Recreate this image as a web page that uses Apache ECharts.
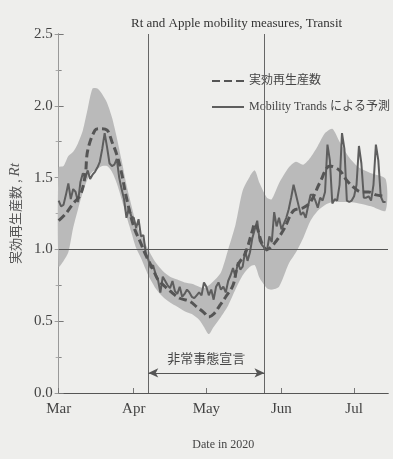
<!DOCTYPE html>
<html>
<head>
<meta charset="utf-8">
<script src="https://cdn.jsdelivr.net/npm/echarts@6/dist/echarts.min.js"></script>
<style>
  html, body { margin: 0; padding: 0; background: #eeeeec; }
  #chart { width: 393px; height: 459px; }
</style>
</head>
<body>
<div id="chart"></div>
<script>
// month ticks on the x axis
const monthTicks = ["2020-03-01", "2020-04-01", "2020-05-01", "2020-06-01", "2020-07-01"];
const monthNames = ["Mar", "Apr", "May", "Jun", "Jul"];

// estimated Rt (dashed)
const rtDates = ["2020-03-01", "2020-03-04", "2020-03-07", "2020-03-10", "2020-03-12", "2020-03-13",
  "2020-03-16", "2020-03-18", "2020-03-21", "2020-03-23", "2020-03-25", "2020-03-27", "2020-03-29",
  "2020-04-01", "2020-04-04", "2020-04-06", "2020-04-09", "2020-04-11", "2020-04-14", "2020-04-16",
  "2020-04-20", "2020-04-24", "2020-04-27", "2020-04-30", "2020-05-02", "2020-05-04", "2020-05-07",
  "2020-05-09", "2020-05-12", "2020-05-14", "2020-05-17", "2020-05-20", "2020-05-21", "2020-05-22",
  "2020-05-24", "2020-05-26", "2020-05-29", "2020-06-02", "2020-06-06", "2020-06-10", "2020-06-13",
  "2020-06-17", "2020-06-21", "2020-06-25", "2020-06-28", "2020-07-01", "2020-07-04", "2020-07-07",
  "2020-07-10", "2020-07-14"];
const rtValues = [1.20, 1.25, 1.32, 1.38, 1.52, 1.69,
  1.83, 1.84, 1.83, 1.75, 1.66, 1.53, 1.36,
  1.16, 1.04, 0.96, 0.86, 0.79, 0.74, 0.71,
  0.66, 0.64, 0.60, 0.56, 0.53, 0.55, 0.62,
  0.67, 0.75, 0.89, 0.97, 1.13, 1.18, 1.15,
  1.04, 1.00, 1.04, 1.14, 1.27, 1.29, 1.33,
  1.47, 1.58, 1.55, 1.48, 1.43, 1.40, 1.40,
  1.38, 1.37];

// Mobility Trends prediction, one value per day from Mar 1
const mobStart = "2020-03-01";
const mobValues = [
  // Mar
  1.34, 1.30, 1.31, 1.38, 1.46, 1.35, 1.42, 1.40, 1.33, 1.47, 1.53, 1.50, 1.55, 1.49, 1.52, 1.54,
  1.57, 1.61, 1.70, 1.81, 1.71, 1.60, 1.58, 1.59, 1.63, 1.50, 1.42, 1.35, 1.22, 1.29, 1.23,
  // Apr
  1.22, 1.15, 1.21, 1.09, 1.10, 0.97, 0.93, 0.87, 0.89, 0.83, 0.79, 0.70, 0.81, 0.78, 0.75,
  0.73, 0.78, 0.71, 0.69, 0.74, 0.67, 0.69, 0.72, 0.70, 0.67, 0.66, 0.68, 0.70, 0.68, 0.77,
  // May
  0.74, 0.68, 0.72, 0.65, 0.74, 0.77, 0.72, 0.74, 0.70, 0.78, 0.82, 0.87, 0.81, 0.91, 0.86, 0.88,
  0.99, 0.92, 0.98, 1.08, 1.14, 1.20, 1.06, 1.03, 1.01, 0.99, 1.09, 1.05, 1.26, 1.16, 1.22,
  // Jun
  1.14, 1.18, 1.22, 1.28, 1.36, 1.45, 1.38, 1.31, 1.24, 1.26, 1.22, 1.30, 1.38, 1.38, 1.34,
  1.29, 1.36, 1.34, 1.40, 1.73, 1.62, 1.32, 1.35, 1.34, 1.45, 1.81, 1.70, 1.34, 1.33, 1.34,
  // Jul
  1.37, 1.45, 1.72, 1.60, 1.36, 1.36, 1.37, 1.34, 1.45, 1.73, 1.62, 1.37, 1.33, 1.33];

// uncertainty band
const bandDates = ["2020-03-01", "2020-03-03", "2020-03-05", "2020-03-07", "2020-03-09", "2020-03-11",
  "2020-03-13", "2020-03-15", "2020-03-17", "2020-03-19", "2020-03-21", "2020-03-23", "2020-03-25",
  "2020-03-27", "2020-03-29", "2020-03-31", "2020-04-02", "2020-04-04", "2020-04-07", "2020-04-10",
  "2020-04-13", "2020-04-16", "2020-04-19", "2020-04-22", "2020-04-25", "2020-04-28", "2020-04-30",
  "2020-05-02", "2020-05-04", "2020-05-07", "2020-05-10", "2020-05-13", "2020-05-16", "2020-05-19",
  "2020-05-21", "2020-05-23", "2020-05-26", "2020-05-28", "2020-05-31", "2020-06-04", "2020-06-07",
  "2020-06-10", "2020-06-13", "2020-06-16", "2020-06-19", "2020-06-22", "2020-06-25", "2020-06-29",
  "2020-07-03", "2020-07-08", "2020-07-14"];
const bandLow = [0.88, 0.92, 0.98, 1.15, 1.28, 1.40,
  1.49, 1.54, 1.56, 1.58, 1.58, 1.54, 1.46,
  1.35, 1.23, 1.12, 1.01, 0.94, 0.82, 0.73,
  0.67, 0.63, 0.60, 0.57, 0.55, 0.51, 0.46,
  0.41, 0.46, 0.53, 0.61, 0.72, 0.82, 0.88,
  0.89, 0.80, 0.73, 0.72, 0.74, 0.90, 0.98,
  1.08, 1.20, 1.27, 1.31, 1.33, 1.33, 1.33,
  1.32, 1.30, 1.27];
const bandHigh = [1.57, 1.58, 1.65, 1.68, 1.74, 1.83,
  1.98, 2.12, 2.12, 2.08, 2.02, 1.92, 1.78,
  1.62, 1.45, 1.31, 1.18, 1.10, 1.00, 0.91,
  0.85, 0.81, 0.79, 0.77, 0.76, 0.74, 0.73,
  0.75, 0.78, 0.84, 1.00, 1.17, 1.41, 1.51,
  1.55, 1.46, 1.36, 1.35, 1.46, 1.57, 1.61,
  1.59, 1.64, 1.72, 1.81, 1.84, 1.75, 1.64,
  1.57, 1.53, 1.49];

// state of emergency
const emergencyStart = "2020-04-07";
const emergencyEnd = "2020-05-25";
const emergencyLabel = "非常事態宣言";

const serif = "'Liberation Serif', 'Noto Sans CJK JP', serif";
const cjk = "'Noto Sans CJK JP', sans-serif";

// x is counted in days from Mar 1 on a value axis
const DAY = 24 * 3600 * 1000;
function dayOf(s) {
  const [y, m, d] = s.split("-").map(Number);
  return Math.round((Date.UTC(y, m - 1, d) - Date.UTC(2020, 2, 1)) / DAY);
}

const xMax = dayOf("2020-07-15");
const tickDays = monthTicks.map(dayOf);

const rtData = rtDates.map((d, i) => [dayOf(d), rtValues[i]]);
const mobData = mobValues.map((v, i) => [dayOf(mobStart) + i, v]);
const bandData = bandDates.map((d, i) => [dayOf(d), bandLow[i], bandHigh[i]]);

// the band is one polygon: upper edge forward, lower edge back
function renderBand(params, api) {
  if (params.dataIndex !== 0) return null;
  const upper = bandData.map(r => api.coord([r[0], r[2]]));
  const lower = bandData.slice().reverse().map(r => api.coord([r[0], r[1]]));
  return {
    type: "polygon",
    shape: { points: upper.concat(lower), smooth: 0.25 },
    style: { fill: "#bababa" },
    silent: true
  };
}

const chart = echarts.init(document.getElementById("chart"));

chart.setOption({
  backgroundColor: "#eeeeec",
  animation: false,
  title: {
    text: "Rt and Apple mobility measures, Transit",
    left: 126,
    top: 12,
    textStyle: { fontFamily: serif, fontWeight: "normal", fontSize: 13, color: "#333" }
  },
  legend: {
    data: ["実効再生産数", "Mobility Trands による予測"],
    orient: "vertical",
    left: 206,
    top: 70,
    itemWidth: 32,
    itemHeight: 10,
    itemGap: 14,
    itemStyle: { opacity: 0 },
    textStyle: { fontFamily: serif, fontSize: 12, color: "#444" }
  },
  grid: { left: 52, right: 5, top: 34, bottom: 66 },
  xAxis: [
    {
      type: "value",
      min: 0,
      max: xMax,
      axisLine: { lineStyle: { color: "#555", width: 1 } },
      axisTick: { inside: true, length: 5, customValues: tickDays, lineStyle: { color: "#777" } },
      axisLabel: {
        customValues: tickDays,
        formatter: v => monthNames[tickDays.indexOf(v)] || "",
        fontFamily: serif,
        fontSize: 15,
        color: "#444",
        margin: 9
      },
      splitLine: { show: false },
      name: "Date in 2020",
      nameLocation: "middle",
      nameGap: 46,
      nameTextStyle: { fontFamily: serif, fontSize: 12, color: "#444" }
    },
    {
      type: "value",
      position: "top",
      min: 0,
      max: xMax,
      axisLine: { show: true, lineStyle: { color: "#555", width: 1.2 } },
      axisTick: { show: false },
      axisLabel: { show: false },
      splitLine: { show: false }
    }
  ],
  yAxis: [
    {
      type: "value",
      min: 0,
      max: 2.5,
      interval: 0.5,
      axisLine: { show: true, lineStyle: { color: "#555", width: 1 } },
      axisTick: { show: true, inside: true, length: 5, lineStyle: { color: "#777" } },
      minorTick: { show: true, splitNumber: 2, length: 3, lineStyle: { color: "#888" } },
      axisLabel: {
        formatter: v => v.toFixed(1),
        fontFamily: serif,
        fontSize: 15,
        color: "#444",
        margin: 6
      },
      splitLine: { show: false },
      name: "{a|実効再生産数 , }{b|Rt}",
      nameLocation: "middle",
      nameRotate: 90,
      nameGap: 34,
      nameTextStyle: {
        rich: {
          a: { fontFamily: cjk, fontSize: 13, color: "#555" },
          b: { fontFamily: serif, fontStyle: "italic", fontSize: 15, color: "#555" }
        }
      }
    },
    {
      type: "value",
      position: "right",
      min: 0,
      max: 2.5,
      interval: 0.5,
      axisLine: { show: true, lineStyle: { color: "#999", width: 1 } },
      axisTick: { show: true, inside: true, length: 4, lineStyle: { color: "#999" } },
      minorTick: { show: true, splitNumber: 2, length: 3, lineStyle: { color: "#aaa" } },
      axisLabel: { show: false },
      splitLine: { show: false }
    }
  ],
  series: [
    {
      name: "band",
      type: "custom",
      renderItem: renderBand,
      data: bandData,
      encode: { x: 0, y: [1, 2] },
      silent: true,
      z: 1,
      markLine: {
        silent: true,
        symbol: "none",
        label: { show: false },
        lineStyle: { color: "#666", width: 1, type: "solid" },
        data: [
          { xAxis: dayOf(emergencyStart) },
          { xAxis: dayOf(emergencyEnd) },
          { yAxis: 1.0, lineStyle: { color: "#555", width: 1.2 } }
        ]
      }
    },
    {
      name: "実効再生産数",
      type: "line",
      data: rtData,
      symbol: "none",
      smooth: 0.35,
      lineStyle: { color: "#555", width: 3, type: [8, 4] },
      itemStyle: { color: "#555" },
      z: 4,
      markLine: {
        silent: true,
        symbol: ["arrow", "arrow"],
        symbolSize: [7, 10],
        lineStyle: { color: "#555", width: 1, type: "solid" },
        label: {
          show: true,
          position: "middle",
          formatter: emergencyLabel,
          distance: 8,
          fontFamily: cjk,
          fontSize: 13,
          color: "#444"
        },
        data: [[
          { coord: [dayOf(emergencyStart), 0.14] },
          { coord: [dayOf(emergencyEnd), 0.14] }
        ]]
      }
    },
    {
      name: "Mobility Trands による予測",
      type: "line",
      data: mobData,
      symbol: "none",
      lineStyle: { color: "#5e5e5e", width: 2 },
      itemStyle: { color: "#5e5e5e" },
      z: 3
    }
  ]
});
</script>
</body>
</html>
